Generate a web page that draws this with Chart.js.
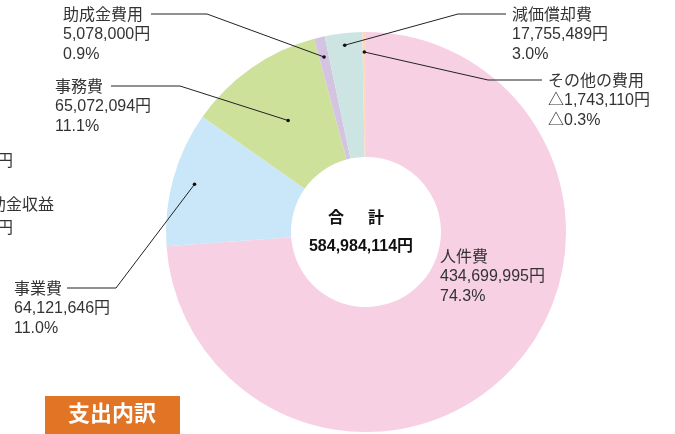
<!DOCTYPE html>
<html>
<head>
<meta charset="utf-8">
<script src="https://cdn.jsdelivr.net/npm/chart.js@4"></script>
<style>
	html, body { margin:0; padding:0; background:#fff; }
	#wrap { position:relative; width:675px; height:434px; }
</style>
</head>
<body>
<div id="wrap"><canvas id="c"></canvas></div>
<script>
// 支出内訳
const labels  = ['人件費', '事業費', '事務費', '助成金費用', '減価償却費', 'その他の費用']
const amounts = [434699995, 64121646, 65072094, 5078000, 17755489, -1743110]
const percents = [74.3, 11.0, 11.1, 0.9, 3.0, -0.3]
const total = 584984114
const colors = ['#f7d0e3', '#c9e7f8', '#cde19b', '#d5c4e1', '#cce5e3', '#fdd9bf']

const fmt = (v, suf) => (v < 0 ? '△' : '') + (suf == '%' ? Math.abs(v).toFixed(1) : Math.abs(v).toLocaleString('en-US')) + suf

const FONT = '"Liberation Sans", "Noto Sans CJK JP", sans-serif'
const INK = '#333'

// label layout: i = segment, x,y = first text line, lx = line start, ex = elbow, r = dot radius ratio
const place = [
	{i:3, x:63,  y:14,  lx:151, ex:207, r:0.90},
	{i:2, x:55,  y:86,  lx:111, ex:180, r:0.68},
	{i:1, x:14,  y:288, lx:67,  ex:116, r:0.89},
	{i:4, x:512, y:14,  lx:506, ex:458, r:0.94},
	{i:5, x:548, y:80,  lx:542, ex:488, r:0.90},
	{i:0, x:440, y:256},
]

const labelPlugin = {
	id: 'labelPlugin',
	afterDraw(chart) {
		const ctx = chart.ctx
		const arcs = chart.getDatasetMeta(0).data
		ctx.save()
		ctx.textBaseline = 'middle'
		ctx.font = '16px ' + FONT
		place.forEach(p => {
			const lines = [labels[p.i], fmt(amounts[p.i], '円'), fmt(percents[p.i], '%')]
			ctx.fillStyle = INK
			ctx.textAlign = 'left'
			lines.forEach((t, k) => ctx.fillText(t, p.x, p.y + 1.5 + k * 19.5))
			if (p.lx == null) return
			const a = arcs[p.i]
			const mid = (a.startAngle + a.endAngle) / 2
			const rr = a.outerRadius * p.r
			const dx = a.x + Math.cos(mid) * rr
			const dy = a.y + Math.sin(mid) * rr
			ctx.strokeStyle = '#222'
			ctx.lineWidth = 1
			ctx.beginPath()
			ctx.moveTo(p.lx, p.y)
			ctx.lineTo(p.ex, p.y)
			ctx.lineTo(dx, dy)
			ctx.stroke()
			ctx.fillStyle = '#111'
			ctx.beginPath()
			ctx.arc(dx, dy, 1.8, 0, Math.PI * 2)
			ctx.fill()
		})

		// centre total
		const a0 = arcs[0]
		ctx.fillStyle = '#111'
		ctx.textAlign = 'center'
		ctx.font = 'bold 16px ' + FONT
		ctx.fillText('合', a0.x - 30, a0.y - 13)
		ctx.fillText('計', a0.x + 10, a0.y - 13)
		ctx.font = 'bold 16px ' + FONT
		ctx.fillText(total.toLocaleString('en-US') + '円', a0.x - 5, a0.y + 15)

		// fragments of the neighbouring chart, cut at the left edge
		ctx.fillStyle = INK
		ctx.font = '16px ' + FONT
		ctx.textAlign = 'right'
		ctx.fillText('円', 13, 162)
		ctx.fillText('補助金収益', 54, 206)
		ctx.fillText('円', 13, 229)

		// title badge
		ctx.fillStyle = '#e27425'
		ctx.fillRect(45, 396, 135, 38)
		ctx.fillStyle = '#fff'
		ctx.textAlign = 'center'
		ctx.font = 'bold 22px ' + FONT
		ctx.fillText('支出内訳', 112, 415)
		ctx.restore()
	}
}

new Chart(document.getElementById('c'), {
	type: 'doughnut',
	data: {
		labels: labels,
		datasets: [{
			data: amounts.map(Math.abs),
			backgroundColor: colors,
			borderWidth: 0,
		}]
	},
	options: {
		responsive: true,
		maintainAspectRatio: false,
		animation: false,
		cutout: '37.5%',
		layout: { padding: { left:166, right:109, top:32, bottom:2 } },
		plugins: {
			legend: { display: false },
			tooltip: { enabled: false },
		}
	},
	plugins: [labelPlugin]
})
</script>
</body>
</html>
